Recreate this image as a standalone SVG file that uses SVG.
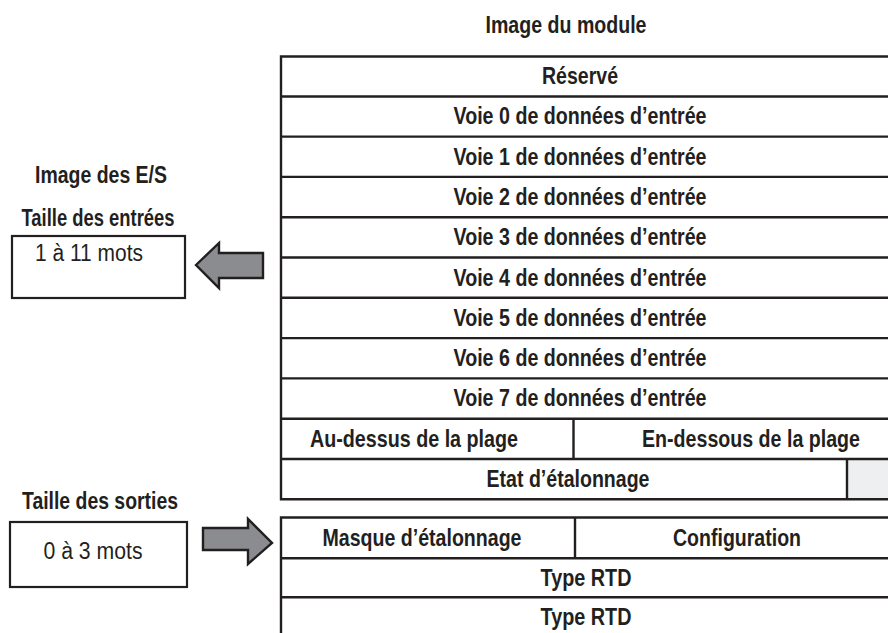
<svg xmlns="http://www.w3.org/2000/svg" width="888" height="633" viewBox="0 0 888 633">
<style>
.b{font-family:"Liberation Sans Narrow","Liberation Sans",Arial,sans-serif;font-weight:bold;font-size:24px;fill:#231f20;text-anchor:middle}
.r{font-family:"Liberation Sans Narrow","Liberation Sans",Arial,sans-serif;font-size:23px;fill:#231f20;text-anchor:middle}
.ln{stroke:#231f20;stroke-width:2.4;fill:none}
.box{stroke:#231f20;stroke-width:2.2;fill:#fff}
.arr{fill:#8a8c8f;stroke:#231f20;stroke-width:2.4;stroke-linejoin:miter}
</style>
<rect width="888" height="633" fill="#fff"/>
<g id="title"><text class="b" x="566" y="33" textLength="161" lengthAdjust="spacingAndGlyphs">Image du module</text></g>
<g id="io-labels">
<text class="b" x="101" y="183" textLength="132" lengthAdjust="spacingAndGlyphs">Image des E/S</text>
<text class="b" x="98" y="226" textLength="153" lengthAdjust="spacingAndGlyphs">Taille des entrées</text>
<text class="b" x="100" y="509" textLength="156" lengthAdjust="spacingAndGlyphs">Taille des sorties</text>
</g>
<g id="input-size">
<rect class="box" x="12" y="236" width="173" height="62"/>
<text class="r" x="89" y="261" textLength="108" lengthAdjust="spacingAndGlyphs">1 à 11 mots</text>
</g>
<g id="output-size">
<rect class="box" x="10" y="522" width="177" height="65"/>
<text class="r" x="93" y="559" textLength="99" lengthAdjust="spacingAndGlyphs">0 à 3 mots</text>
</g>
<g id="input-table">
<rect x="847" y="459" width="45" height="40" fill="#eeeff0"/>
<path class="ln" d="M892,56.5 H281 V499.3 H892 M281,96.5 H892 M281,136.6 H892 M281,176.9 H892 M281,217.2 H892 M281,257.5 H892 M281,297.8 H892 M281,338.1 H892 M281,378.4 H892 M281,418.7 H892 M281,459 H892 M573.5,418.7 V459 M847,459 V499.3"/>
<text class="b" x="580" y="84" textLength="76" lengthAdjust="spacingAndGlyphs">Réservé</text>
<text class="b" x="580" y="124.3" textLength="253" lengthAdjust="spacingAndGlyphs">Voie 0 de données d’entrée</text>
<text class="b" x="580" y="164.6" textLength="253" lengthAdjust="spacingAndGlyphs">Voie 1 de données d’entrée</text>
<text class="b" x="580" y="204.9" textLength="253" lengthAdjust="spacingAndGlyphs">Voie 2 de données d’entrée</text>
<text class="b" x="580" y="245.2" textLength="253" lengthAdjust="spacingAndGlyphs">Voie 3 de données d’entrée</text>
<text class="b" x="580" y="285.5" textLength="253" lengthAdjust="spacingAndGlyphs">Voie 4 de données d’entrée</text>
<text class="b" x="580" y="325.8" textLength="253" lengthAdjust="spacingAndGlyphs">Voie 5 de données d’entrée</text>
<text class="b" x="580" y="366.1" textLength="253" lengthAdjust="spacingAndGlyphs">Voie 6 de données d’entrée</text>
<text class="b" x="580" y="406.4" textLength="253" lengthAdjust="spacingAndGlyphs">Voie 7 de données d’entrée</text>
<text class="b" x="414" y="446.7" textLength="208" lengthAdjust="spacingAndGlyphs">Au-dessus de la plage</text>
<text class="b" x="751" y="446.7" textLength="218" lengthAdjust="spacingAndGlyphs">En-dessous de la plage</text>
<text class="b" x="568" y="487" textLength="163" lengthAdjust="spacingAndGlyphs">Etat d’étalonnage</text>
</g>
<g id="output-table">
<path class="ln" d="M892,517.5 H281 V640 M281,558.3 H892 M281,597.3 H892 M575,517.5 V558.3"/>
<text class="b" x="422" y="545.5" textLength="199" lengthAdjust="spacingAndGlyphs">Masque d’étalonnage</text>
<text class="b" x="737" y="545.5" textLength="128" lengthAdjust="spacingAndGlyphs">Configuration</text>
<text class="b" x="586" y="586" textLength="91" lengthAdjust="spacingAndGlyphs">Type RTD</text>
<text class="b" x="586" y="625" textLength="91" lengthAdjust="spacingAndGlyphs">Type RTD</text>
</g>
<g id="connectors">
<polygon class="arr" points="196,265 219,243 219,253 263,253 263,278 219,278 219,288"/>
<polygon class="arr" points="203,528 248,528 248,519 272,543 248,564 248,550 203,550"/>
</g>
</svg>
